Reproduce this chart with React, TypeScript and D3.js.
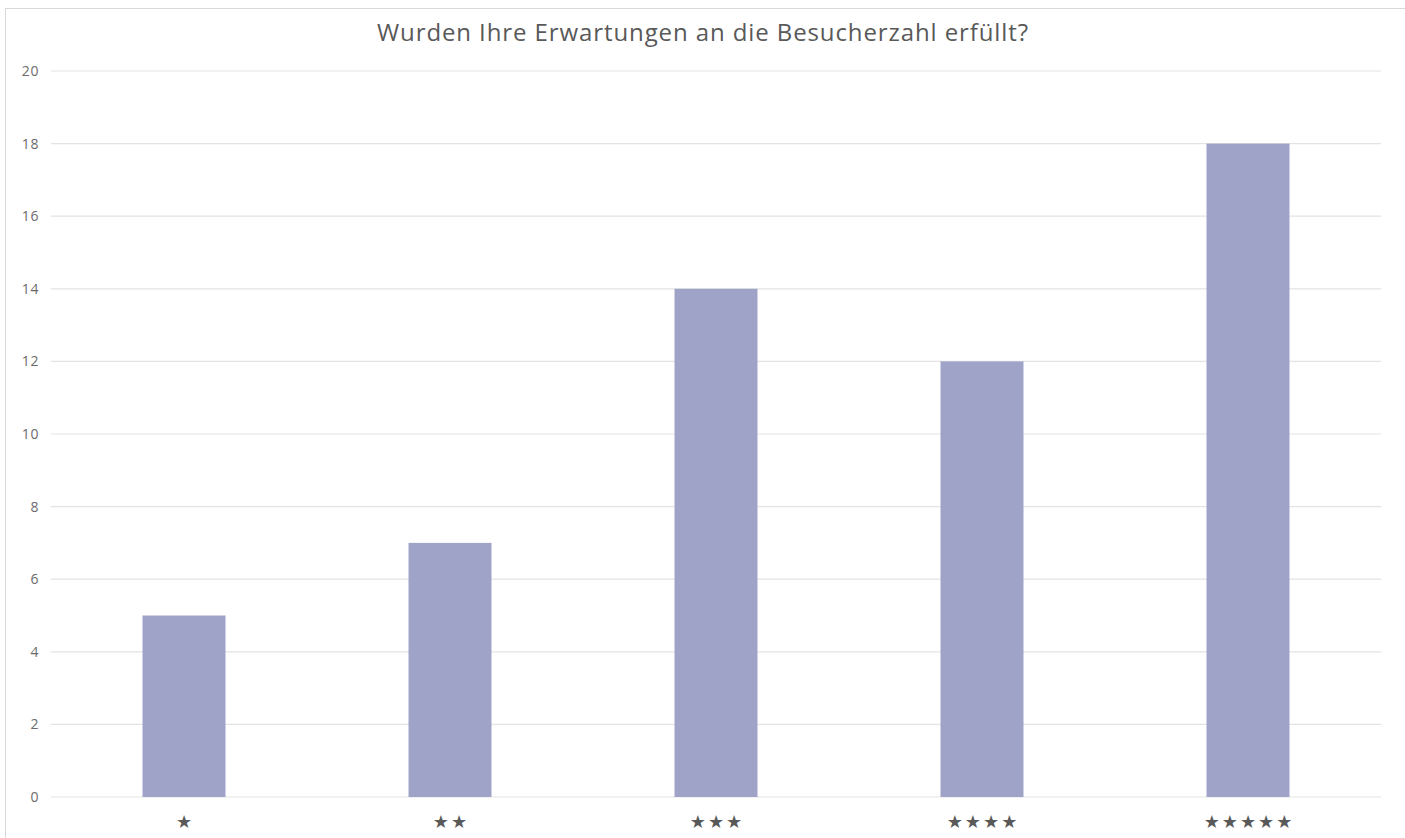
import React from "react";
import * as d3 from "d3";

const categories = ["★", "★★", "★★★", "★★★★", "★★★★★"];
const values = [5, 7, 14, 12, 18];
const yTicks = [0, 2, 4, 6, 8, 10, 12, 14, 16, 18, 20];
const title = "Wurden Ihre Erwartungen an die Besucherzahl erfüllt?";

export default function App() {
  const W = 1405, H = 838;
  const x = d3.scaleBand<string>().domain(categories).range([51, 1381]).paddingInner(0.688).paddingOuter(0.344);
  const y = d3.scaleLinear().domain([0, 20]).range([797, 71]);
  const font = "'Open Sans', Lato, sans-serif";
  return (
    <svg width={W} height={H} style={{ position: "absolute", left: 0, top: 0, background: "#fff" }}>
      <rect x={5.5} y={8.5} width={W + 10} height={H + 10} fill="#fff" stroke="#d9d9d9" strokeWidth={1} />
      <text x={703} y={41} textAnchor="middle" fontFamily={font} fontSize={24} letterSpacing={0.9} fill="#595959">{title}</text>
      {yTicks.map((t) => (
        <g key={t}>
          <line x1={51} x2={1381} y1={y(t)} y2={y(t)} stroke="#e3e3e3" strokeWidth={1.2} />
          <text x={39} y={y(t)} dy="0.35em" textAnchor="end" fontFamily={font} fontSize={14} letterSpacing={0.6} fill="#6b6b6b">{t}</text>
        </g>
      ))}
      {categories.map((c, i) => (
        <rect key={c} x={x(c)} y={y(values[i])} width={x.bandwidth()} height={y(0) - y(values[i])} fill="#a0a3c8" />
      ))}
      {categories.map((c) => (
        <text key={c} x={(x(c) ?? 0) + x.bandwidth() / 2 + 1} y={822} dy="0.35em" textAnchor="middle" fontFamily="'DejaVu Sans', sans-serif" fontSize={18} letterSpacing={2} fill="#595959">{c}</text>
      ))}
    </svg>
  );
}
